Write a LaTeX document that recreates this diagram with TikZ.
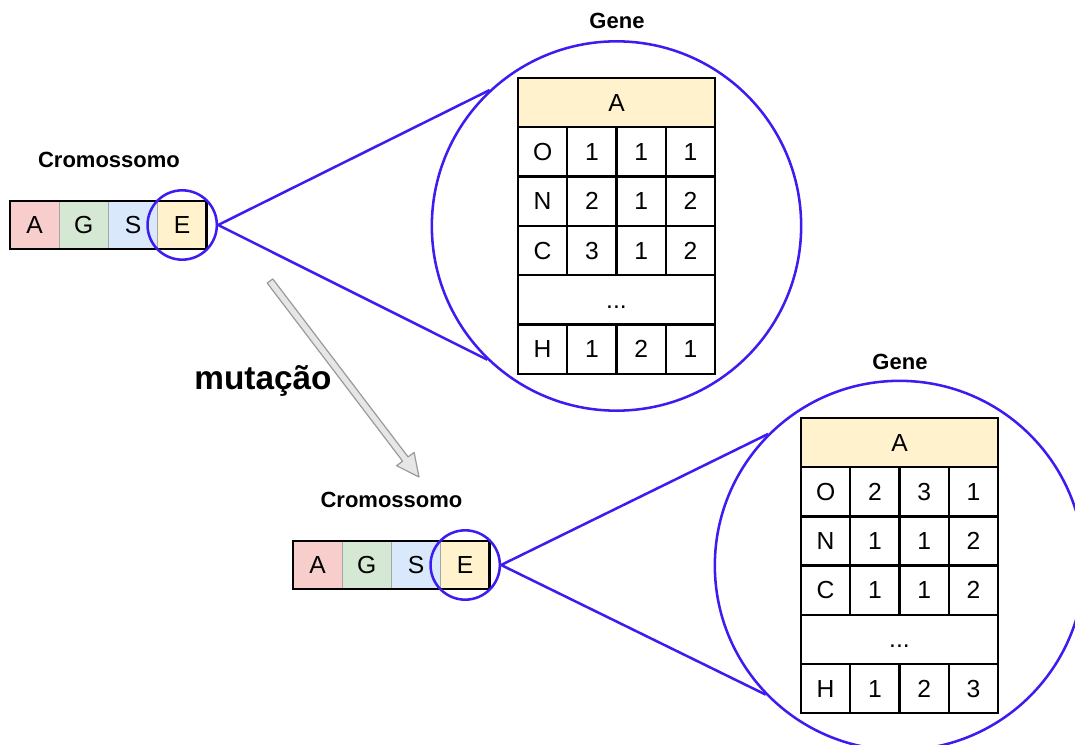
\documentclass[tikz,border=0pt]{standalone}
\usepackage{fontspec}
\setmainfont{Liberation Sans}
\usetikzlibrary{calc}

\definecolor{zoomblue}{RGB}{60,28,240}
\definecolor{genered}{HTML}{F8CECC}
\definecolor{genegreen}{HTML}{D5E8D4}
\definecolor{geneblue}{HTML}{DAE8FC}
\definecolor{geneyellow}{HTML}{FFF2CC}
\definecolor{arrowfill}{HTML}{E6E6E6}
\definecolor{arrowline}{HTML}{9A9A9A}

\tikzset{
  celltext/.style={font=\fontsize{18.5}{18.5}\selectfont},
  chromcell/.style={celltext, draw=gray!70, line width=0.8pt, minimum width=36.9pt,
    minimum height=36pt, inner sep=0pt, outer sep=0pt, anchor=north west},
  chromframe/.style={draw=black, line width=2.2pt},
  tabcell/.style={celltext, draw=black, line width=1.7pt, fill=white, minimum width=36.94pt,
    minimum height=36.97pt, inner sep=0pt, outer sep=0pt, anchor=north west},
  widecell/.style={tabcell, minimum width=147.75pt},
  ring/.style={circle, draw=zoomblue, line width=1.9pt, inner sep=0pt},
  zoomline/.style={draw=zoomblue, line width=1.9pt},
  label/.style={font=\fontsize{16.5}{16.5}\selectfont\bfseries, anchor=base},
  mutarrow/.style={fill=arrowfill, draw=arrowline, line width=0.9pt, line join=round}
}

% one row of a gene table: prefix, row name, left x, top y, label, three values
\newcommand\generow[8]{%
  \node[tabcell] (#1-#2-0) at (#3,#4) {#5};
  \node[tabcell] (#1-#2-1) at ({#3+49.25},#4) {#6};
  \node[tabcell] (#1-#2-2) at ({#3+98.5},#4) {#7};
  \node[tabcell] (#1-#2-3) at ({#3+147.75},#4) {#8};
}

% a chromosome of four genes: prefix, left x, top y
\newcommand\chromosome[3]{%
  \node[chromcell, fill=genered]    (#1-a) at (#2,#3) {A};
  \node[chromcell, fill=genegreen]  (#1-g) at ({#2+49.2},#3) {G};
  \node[chromcell, fill=geneblue]   (#1-s) at ({#2+98.4},#3) {S};
  \node[chromcell, fill=geneyellow] (#1-e) at ({#2+147.6},#3) {E};
  \draw[chromframe] (#1-a.north west) rectangle (#1-e.south east);
}

\begin{document}
\begin{tikzpicture}[x=0.75pt, y=-0.75pt]
\path[use as bounding box, clip] (0,0) rectangle (1075,745);

% ---------- original chromosome ----------
\node[label] (lc1) at (109,168) {Cromossomo};
\chromosome{c1}{10}{201}
\node[ring, minimum size=52pt] (z1) at (c1-e.center) {};

% gene table of E
\node[label] (lg1) at (617,29) {Gene};
\node[widecell, fill=geneyellow] (t1-head) at (518,78) {A};
\generow{t1}{o}{518}{127.3}{O}{1}{1}{1}
\generow{t1}{n}{518}{176.6}{N}{2}{1}{2}
\generow{t1}{c}{518}{225.9}{C}{3}{1}{2}
\node[widecell] (t1-dots) at (518,275.2) {\vphantom{A}...};
\generow{t1}{h}{518}{324.5}{H}{1}{2}{1}
\node[ring, minimum size=277pt] (g1) at (616.5,226) {};

\draw[zoomline] (g1.133) -- (z1.0) -- (g1.226);

% ---------- mutation ----------
\node[font=\fontsize{25}{25}\selectfont\bfseries, anchor=base] (mut) at (263,390) {mutação};
\coordinate (mS) at (270,281);
\coordinate (mT) at (419,477);
\coordinate (mH) at ($(mT)!16.9pt!(mS)$);
\draw[mutarrow]
  ($(mS)!2.6pt!90:(mT)$) -- ($(mH)!2.6pt!90:(mT)$) -- ($(mH)!8.25pt!90:(mT)$)
  -- (mT)
  -- ($(mH)!8.25pt!-90:(mT)$) -- ($(mH)!2.6pt!-90:(mT)$) -- ($(mS)!2.6pt!-90:(mT)$) -- cycle;

% ---------- mutated chromosome ----------
\node[label] (lc2) at (391.5,507) {Cromossomo};
\chromosome{c2}{293}{541}
\node[ring, minimum size=52pt] (z2) at (c2-e.center) {};

% mutated gene table of E
\node[label] (lg2) at (900,369) {Gene};
\node[widecell, fill=geneyellow] (t2-head) at (801,418) {A};
\generow{t2}{o}{801}{467.2}{O}{2}{3}{1}
\generow{t2}{n}{801}{516.4}{N}{1}{1}{2}
\generow{t2}{c}{801}{565.6}{C}{1}{1}{2}
\node[widecell] (t2-dots) at (801,614.8) {\vphantom{A}...};
\generow{t2}{h}{801}{664}{H}{1}{2}{3}
\node[ring, minimum size=277pt] (g2) at (899.5,565.5) {};

\draw[zoomline] (g2.135) -- (z2.0) -- (g2.224);
\end{tikzpicture}
\end{document}
